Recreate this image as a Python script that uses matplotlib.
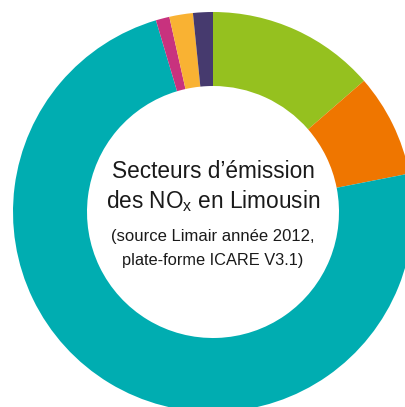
import matplotlib
matplotlib.use("Agg")
import matplotlib.pyplot as plt
from matplotlib import font_manager

# NOx emission sectors, Limousin 2012 (shares in %, clockwise from top)
sectors = ["Agriculture", "Industrie", "Transport routier", "Autres transports",
           "Résidentiel", "Tertiaire"]
shares = [13.6, 8.3, 73.4, 1.1, 1.9, 1.6]
colors = ["#95c11f", "#ef7600", "#00adb1", "#c8327e", "#f9b233", "#463a6e"]

title_lines = ["Secteurs d\u2019émission", "des NO$_{\\mathregular{x}}$ en Limousin"]
source_lines = ["(source Limair année 2012,", "plate-forme ICARE V3.1)"]

names = sorted({f.name for f in font_manager.fontManager.ttflist})
print(names)
print([(f.name, f.stretch, f.style, f.weight) for f in font_manager.fontManager.ttflist if 'Condensed' in f.fname or 'Narrow' in f.fname])

plt.rcParams['font.family'] = ['Liberation Sans', 'DejaVu Sans']

W, H = 405, 407
cx, cy, r_px = 213, 212, 200
fig = plt.figure(figsize=(W / 100, H / 100), dpi=100)
ax = fig.add_axes([0, 0, 1, 1])
ax.axis('off')

s = 1.0 / r_px
ax.pie(shares, colors=colors, startangle=90, counterclock=False, radius=1.0,
       wedgeprops=dict(width=0.37, edgecolor='none', linewidth=0))
ax.set_xlim(-cx * s, (W - cx) * s)
ax.set_ylim(-(H - cy) * s, cy * s)
ax.set_aspect('auto')

ax.text(0, (cy - 171) * s, title_lines[0], ha='center', va='center',
        fontsize=16.3, color='#1a1a1a')
ax.text(0, (cy - 201) * s, title_lines[1], ha='center', va='center',
        fontsize=16.3, color='#1a1a1a')
ax.text(0, (cy - 237) * s, source_lines[0], ha='center', va='center',
        fontsize=12, color='#1a1a1a')
ax.text(0, (cy - 260) * s, source_lines[1], ha='center', va='center',
        fontsize=11.8, color='#1a1a1a')

fig.savefig('out.png', dpi=100)
